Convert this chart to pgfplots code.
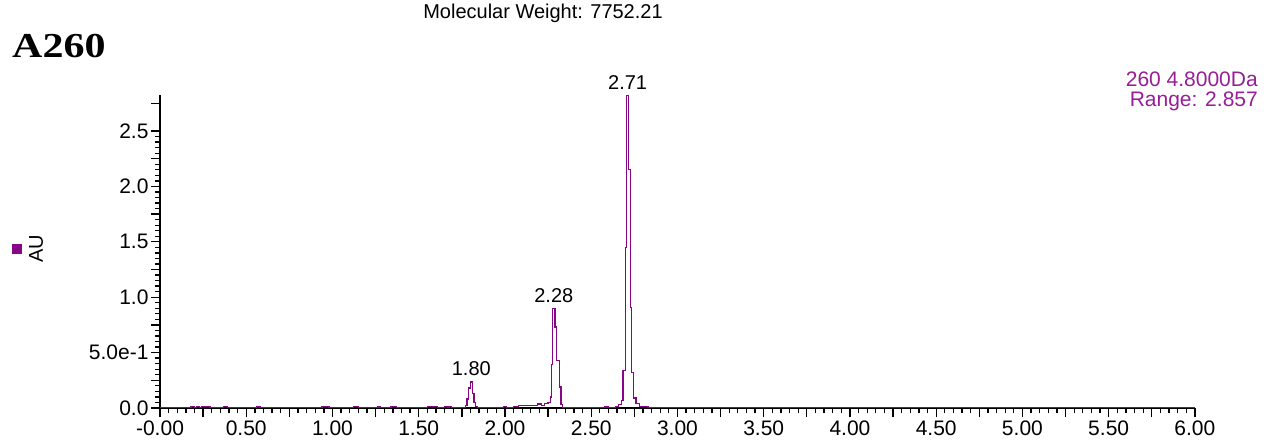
\documentclass[border=0pt]{standalone}
\usepackage{pgfplots}
\pgfplotsset{compat=1.18}
\usepackage{fontspec}
\setmainfont{Liberation Sans}
\newfontfamily\serifb{Liberation Serif}
\definecolor{trace}{RGB}{135,5,135}
\definecolor{lbl}{RGB}{150,30,150}
\begin{document}
\begin{tikzpicture}[x=1pt,y=1pt]
\useasboundingbox (0,0) rectangle (1270,445);
\begin{axis}[
  at={(160pt,37pt)}, anchor=south west,
  scale only axis, width=1035pt, height=313pt,
  xmin=0, xmax=6, ymin=0, ymax=2.825,
  axis x line*=bottom, axis y line*=left,
  axis line style={line width=2.2pt, black},
  tick align=outside,
  tick style={black, line width=1.3pt},
  major tick length=9pt, minor tick length=5pt,
  xtick={0,0.5,1,1.5,2,2.5,3,3.5,4,4.5,5,5.5,6},
  xticklabels={-0.00,0.50,1.00,1.50,2.00,2.50,3.00,3.50,4.00,4.50,5.00,5.50,6.00},
  minor x tick num=9,
  extra x ticks={0.25,0.75,1.25,1.75,2.25,2.75,3.25,3.75,4.25,4.75,5.25,5.75},
  extra x tick labels={},
  ytick={0,0.5,1,1.5,2,2.5},
  yticklabels={0.0,5.0e-1,1.0,1.5,2.0,2.5},
  minor y tick num=9,
  extra y ticks={0.25,0.75,1.25,1.75,2.25,2.75},
  extra y tick labels={},
  tick label style={font=\fontsize{21}{24}\selectfont, black},
  xticklabel style={yshift=0pt},
  yticklabel style={xshift=1pt},
  clip=false,
]
\addplot[trace, line width=1.3pt, const plot] coordinates {
(0.00,0.003) (0.18,0.012) (0.20,0.006) (0.21,0.012) (0.23,0.003) (0.24,0.012)
(0.29,0.003) (0.37,0.012) (0.39,0.003) (0.56,0.012) (0.58,0.003) (0.94,0.012)
(0.98,0.003) (1.12,0.012) (1.15,0.003) (1.26,0.010) (1.28,0.003) (1.34,0.012)
(1.37,0.003) (1.55,0.012) (1.61,0.003) (1.65,0.012) (1.67,0.003) (1.68,0.012)
(1.69,0.003) (1.77,0.02) (1.78,0.08) (1.79,0.18) (1.80,0.235) (1.81,0.13)
(1.82,0.05) (1.83,0.015) (1.84,0.003) (1.99,0.012) (2.01,0.003) (2.05,0.012)
(2.08,0.02) (2.11,0.025) (2.14,0.02) (2.17,0.025) (2.19,0.035) (2.21,0.025)
(2.23,0.04) (2.25,0.05) (2.262,0.10) (2.27,0.39) (2.276,0.90) (2.29,0.73)
(2.30,0.43) (2.315,0.19) (2.325,0.03) (2.335,0.003) (2.58,0.01) (2.60,0.006)
(2.64,0.015) (2.66,0.03) (2.675,0.07) (2.685,0.34) (2.697,1.45) (2.705,2.82)
(2.718,2.15) (2.728,0.91) (2.735,0.32) (2.745,0.09) (2.76,0.04) (2.78,0.015)
(2.83,0.003) (6.00,0.003)
};
\node[anchor=base, font=\fontsize{20}{23}\selectfont] at (axis cs:2.711,2.82) [yshift=6pt] {2.71};
\node[anchor=base, font=\fontsize{20}{23}\selectfont] at (axis cs:2.283,0.90) [yshift=6pt] {2.28};
\node[anchor=base, font=\fontsize{20}{23}\selectfont] at (axis cs:1.805,0.235) [yshift=6pt] {1.80};
\end{axis}
\node[font=\fontsize{20}{23}\selectfont] at (543,432) {Molecular Weight: 7752.21};
\node[anchor=base west, inner sep=0pt] at (12,387) {\scalebox{1.2}[1]{\serifb\bfseries\fontsize{35}{40}\selectfont A260}};
\node[anchor=east, inner sep=0pt, text=lbl, font=\fontsize{21}{24}\selectfont] at (1258,366) {260 4.8000Da};
\node[anchor=east, inner sep=0pt, text=lbl, font=\fontsize{21}{24}\selectfont] at (1258,344) {Range: 2.857};
\fill[trace] (12,191) rectangle (22,201);
\node[rotate=90, font=\fontsize{20}{23}\selectfont] at (36,196) {AU};
\end{tikzpicture}
\end{document}
